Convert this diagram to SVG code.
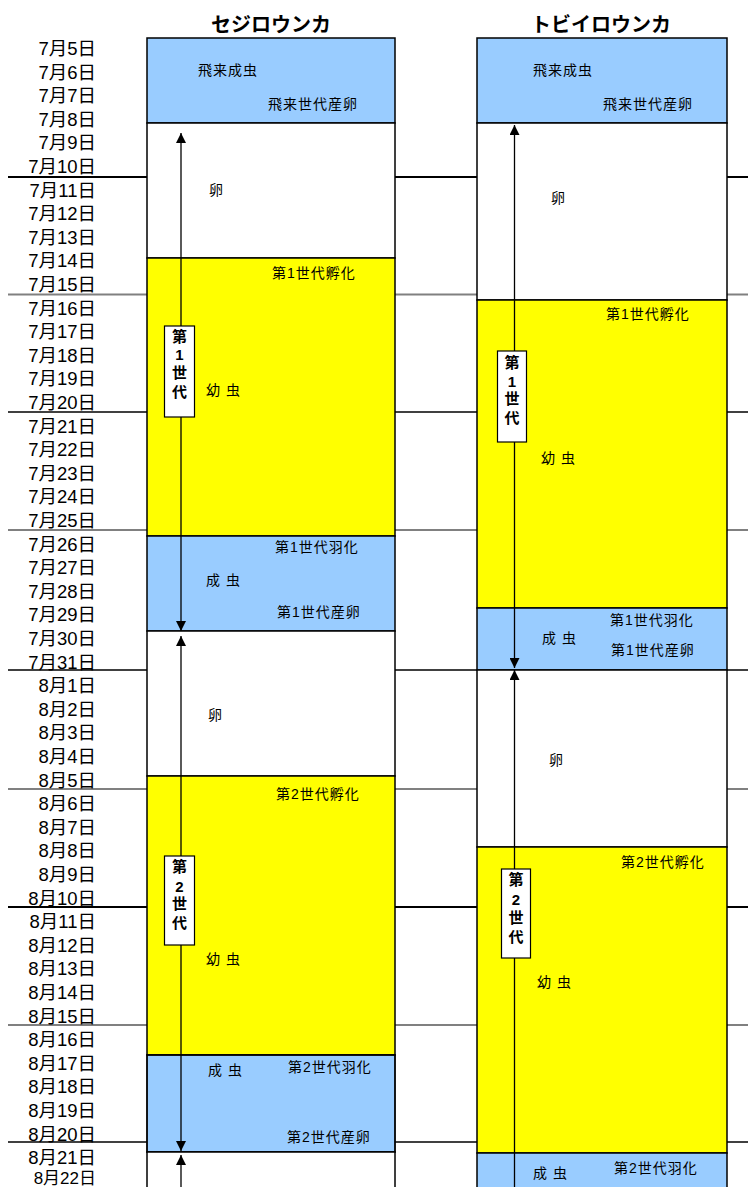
<svg xmlns="http://www.w3.org/2000/svg" width="748" height="1187" viewBox="0 0 748 1187">
<defs>
<style>
text{font-family:"Liberation Sans","Noto Sans CJK JP",sans-serif;fill:#000}
.d{font-size:18.5px;text-anchor:end}
.d2{font-size:17px;text-anchor:end}
.t{font-size:20px;font-weight:bold;text-anchor:middle}
.l{font-size:14px;letter-spacing:1px}
.g{font-size:15px;font-weight:bold;text-anchor:middle}
.blue{fill:#99CCFF;stroke:#000;stroke-width:1.5}
.yel{fill:#FFFF00;stroke:#000;stroke-width:1.5}
.wht{fill:#FFFFFF;stroke:#000;stroke-width:1.5}
.lb{fill:#FFFFFF;stroke:#000;stroke-width:1.2}
.sk{stroke:#000;stroke-width:2}
.sb{stroke:#000;stroke-width:1.3}
.sg{stroke:#808080;stroke-width:2}
.ar{stroke:#000;stroke-width:1.3;fill:none}
</style>
<marker id="ah" viewBox="0 0 10 10" refX="10" refY="5" markerWidth="10" markerHeight="10" markerUnits="userSpaceOnUse" orient="auto">
<path d="M0,0 L10,5 L0,10 Z" fill="#000"/>
</marker>
</defs>
<rect width="748" height="1187" fill="#fff"/>
<g id="gridlines">
<line class="sk" x1="8" y1="177" x2="748" y2="177"/>
<line class="sg" x1="8" y1="294.5" x2="748" y2="294.5"/>
<line class="sb" x1="8" y1="412" x2="748" y2="412"/>
<line class="sg" x1="8" y1="530" x2="748" y2="530"/>
<line class="sb" x1="8" y1="670" x2="748" y2="670"/>
<line class="sg" x1="8" y1="789" x2="748" y2="789"/>
<line class="sk" x1="8" y1="907" x2="748" y2="907"/>
<line class="sg" x1="8" y1="1025" x2="748" y2="1025"/>
<line class="sb" x1="8" y1="1142" x2="748" y2="1142"/>
</g>
<g id="dates">
<text class="d" x="96" y="55">7月5日</text>
<text class="d" x="96" y="78.6">7月6日</text>
<text class="d" x="96" y="102.2">7月7日</text>
<text class="d" x="96" y="125.8">7月8日</text>
<text class="d" x="96" y="149.4">7月9日</text>
<text class="d" x="96" y="173">7月10日</text>
<text class="d" x="96" y="196.6">7月11日</text>
<text class="d" x="96" y="220.2">7月12日</text>
<text class="d" x="96" y="243.8">7月13日</text>
<text class="d" x="96" y="267.4">7月14日</text>
<text class="d" x="96" y="291">7月15日</text>
<text class="d" x="96" y="314.6">7月16日</text>
<text class="d" x="96" y="338.2">7月17日</text>
<text class="d" x="96" y="361.8">7月18日</text>
<text class="d" x="96" y="385.4">7月19日</text>
<text class="d" x="96" y="409">7月20日</text>
<text class="d" x="96" y="432.6">7月21日</text>
<text class="d" x="96" y="456.2">7月22日</text>
<text class="d" x="96" y="479.8">7月23日</text>
<text class="d" x="96" y="503.4">7月24日</text>
<text class="d" x="96" y="527">7月25日</text>
<text class="d" x="96" y="550.6">7月26日</text>
<text class="d" x="96" y="574.2">7月27日</text>
<text class="d" x="96" y="597.8">7月28日</text>
<text class="d" x="96" y="621.4">7月29日</text>
<text class="d" x="96" y="645">7月30日</text>
<text class="d" x="96" y="668.6">7月31日</text>
<text class="d" x="96" y="692.2">8月1日</text>
<text class="d" x="96" y="715.8">8月2日</text>
<text class="d" x="96" y="739.4">8月3日</text>
<text class="d" x="96" y="763">8月4日</text>
<text class="d" x="96" y="786.6">8月5日</text>
<text class="d" x="96" y="810.2">8月6日</text>
<text class="d" x="96" y="833.8">8月7日</text>
<text class="d" x="96" y="857.4">8月8日</text>
<text class="d" x="96" y="881">8月9日</text>
<text class="d" x="96" y="904.6">8月10日</text>
<text class="d" x="96" y="928.2">8月11日</text>
<text class="d" x="96" y="951.8">8月12日</text>
<text class="d" x="96" y="975.4">8月13日</text>
<text class="d" x="96" y="999">8月14日</text>
<text class="d" x="96" y="1022.6">8月15日</text>
<text class="d" x="96" y="1046.2">8月16日</text>
<text class="d" x="96" y="1069.8">8月17日</text>
<text class="d" x="96" y="1093.4">8月18日</text>
<text class="d" x="96" y="1117">8月19日</text>
<text class="d" x="96" y="1140.6">8月20日</text>
<text class="d" x="96" y="1163.5">8月21日</text>
<text class="d2" x="96" y="1183.5">8月22日</text>
</g>
<g id="titles">
<text class="t" x="271" y="32">セジロウンカ</text>
<text class="t" x="601" y="32">トビイロウンカ</text>
</g>
<g id="sejiro-immigrant">
<rect class="blue" x="147" y="38" width="248" height="85"/>
<text class="l" x="198" y="75">飛来成虫</text>
<text class="l" x="268" y="109">飛来世代産卵</text>
</g>
<g id="sejiro-egg1">
<rect class="wht" x="147" y="123" width="248" height="135"/>
<text class="l" x="209" y="195">卵</text>
</g>
<g id="sejiro-larva1">
<rect class="yel" x="147" y="258" width="248" height="278"/>
<text class="l" x="272" y="278">第1世代孵化</text>
<text class="l" x="206" y="395">幼 虫</text>
</g>
<g id="sejiro-adult1">
<rect class="blue" x="147" y="536" width="248" height="95"/>
<text class="l" x="275" y="552">第1世代羽化</text>
<text class="l" x="206" y="585">成 虫</text>
<text class="l" x="277" y="617">第1世代産卵</text>
</g>
<g id="sejiro-egg2">
<rect class="wht" x="147" y="631" width="248" height="145"/>
<text class="l" x="208" y="720">卵</text>
</g>
<g id="sejiro-larva2">
<rect class="yel" x="147" y="776" width="248" height="279"/>
<text class="l" x="276" y="799">第2世代孵化</text>
<text class="l" x="206" y="964">幼 虫</text>
</g>
<g id="sejiro-adult2">
<rect class="blue" x="147" y="1055" width="248" height="97" style="stroke-width:1.8"/>
<text class="l" x="208" y="1075">成 虫</text>
<text class="l" x="288" y="1072">第2世代羽化</text>
<text class="l" x="287" y="1142">第2世代産卵</text>
</g>
<g id="sejiro-egg3">
<rect class="wht" x="147" y="1152" width="248" height="40"/>
</g>
<g id="tobiiro-immigrant">
<rect class="blue" x="477" y="38" width="250" height="85"/>
<text class="l" x="533" y="75">飛来成虫</text>
<text class="l" x="603" y="109">飛来世代産卵</text>
</g>
<g id="tobiiro-egg1">
<rect class="wht" x="477" y="123" width="250" height="177"/>
<text class="l" x="551" y="203">卵</text>
</g>
<g id="tobiiro-larva1">
<rect class="yel" x="477" y="300" width="250" height="308"/>
<text class="l" x="606" y="319">第1世代孵化</text>
<text class="l" x="541" y="463">幼 虫</text>
</g>
<g id="tobiiro-adult1">
<rect class="blue" x="477" y="608" width="250" height="62"/>
<text class="l" x="610" y="625">第1世代羽化</text>
<text class="l" x="542" y="643">成 虫</text>
<text class="l" x="611" y="655">第1世代産卵</text>
</g>
<g id="tobiiro-egg2">
<rect class="wht" x="477" y="670" width="250" height="177"/>
<text class="l" x="549" y="765">卵</text>
</g>
<g id="tobiiro-larva2">
<rect class="yel" x="477" y="847" width="250" height="306"/>
<text class="l" x="621" y="867">第2世代孵化</text>
<text class="l" x="537" y="987">幼 虫</text>
</g>
<g id="tobiiro-adult2">
<rect class="blue" x="477" y="1153" width="250" height="40"/>
<text class="l" x="533" y="1178">成 虫</text>
<text class="l" x="614" y="1173">第2世代羽化</text>
</g>
<g id="connectors">
<line class="ar" x1="181" y1="326" x2="181" y2="133" marker-end="url(#ah)"/>
<line class="ar" x1="181" y1="417" x2="181" y2="631" marker-end="url(#ah)"/>
<line class="ar" x1="181" y1="856" x2="181" y2="636" marker-end="url(#ah)"/>
<line class="ar" x1="181" y1="945" x2="181" y2="1151" marker-end="url(#ah)"/>
<line class="ar" x1="181" y1="1190" x2="181" y2="1155" marker-end="url(#ah)"/>
<line class="ar" x1="514.5" y1="351" x2="514.5" y2="125" marker-end="url(#ah)"/>
<line class="ar" x1="514.5" y1="442" x2="514.5" y2="668" marker-end="url(#ah)"/>
<line class="ar" x1="514.5" y1="869" x2="514.5" y2="670" marker-end="url(#ah)"/>
<line class="ar" x1="514.5" y1="958" x2="514.5" y2="1190"/>
</g>
<g id="gen1-sejiro">
<rect class="lb" x="164.5" y="326" width="30" height="91"/>
<text class="g" x="179.5" y="342">第</text>
<text class="g" x="179.5" y="360">1</text>
<text class="g" x="179.5" y="378">世</text>
<text class="g" x="179.5" y="397">代</text>
</g>
<g id="gen2-sejiro">
<rect class="lb" x="164.5" y="856" width="30" height="89"/>
<text class="g" x="179.5" y="872">第</text>
<text class="g" x="179.5" y="892">2</text>
<text class="g" x="179.5" y="909">世</text>
<text class="g" x="179.5" y="928">代</text>
</g>
<g id="gen1-tobiiro">
<rect class="lb" x="497.5" y="351" width="29" height="91"/>
<text class="g" x="512" y="368">第</text>
<text class="g" x="512" y="387">1</text>
<text class="g" x="512" y="404">世</text>
<text class="g" x="512" y="423">代</text>
</g>
<g id="gen2-tobiiro">
<rect class="lb" x="501.5" y="869" width="29" height="89"/>
<text class="g" x="516" y="885">第</text>
<text class="g" x="516" y="905">2</text>
<text class="g" x="516" y="923">世</text>
<text class="g" x="516" y="942">代</text>
</g>
</svg>
